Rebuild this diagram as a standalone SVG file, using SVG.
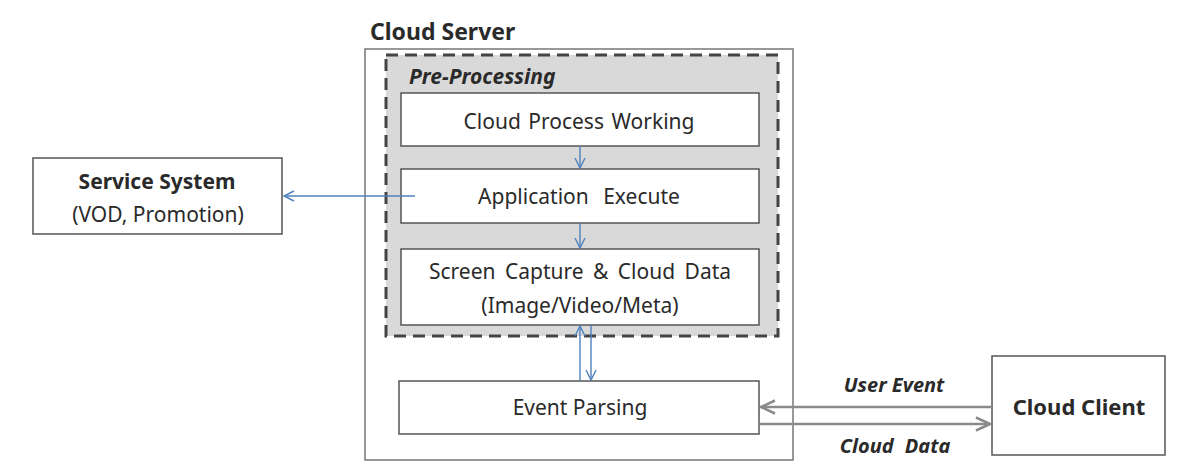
<svg xmlns="http://www.w3.org/2000/svg" width="1182" height="474" viewBox="0 0 1182 474">
<defs>
<style>
.box{fill:#fff;stroke:#555;stroke-width:1.5}
.t{font-family:"Noto Sans","Liberation Sans",sans-serif;fill:#2a2a2a;text-anchor:middle;font-size:21px}
.b{font-weight:bold}
.i{font-style:italic;font-weight:bold}
.blue{stroke:#4f81bd;stroke-width:1.4;fill:none}
.grey{stroke:#8a8a8a;stroke-width:2.5;fill:none}
</style>
<marker id="ab" viewBox="0 0 12 12" refX="11" refY="6" markerWidth="12" markerHeight="12" markerUnits="userSpaceOnUse" orient="auto">
<path d="M1,1 L11,6 L1,11" fill="none" stroke="#4f81bd" stroke-width="1.4"/>
</marker>
<marker id="ag" viewBox="0 0 16 16" refX="15" refY="8" markerWidth="16" markerHeight="16" markerUnits="userSpaceOnUse" orient="auto">
<path d="M1,1.5 L15,8 L1,14.5" fill="none" stroke="#8a8a8a" stroke-width="2.5"/>
</marker>
</defs>
<rect width="1182" height="474" fill="#fff"/>
<g id="cloud-server">
<rect x="365" y="49" width="428" height="411" fill="#fff" stroke="#777" stroke-width="1.5"/>
<text class="t b" x="370" y="40" style="text-anchor:start;font-size:23px">Cloud Server</text>
</g>
<g id="pre-processing">
<rect x="386" y="55" width="392" height="281" fill="#d9d9d9" stroke="#444" stroke-width="3" stroke-dasharray="12,7"/>
<text class="t i" x="409" y="84" style="text-anchor:start;font-size:21px">Pre-Processing</text>
</g>
<g id="cloud-process-working">
<rect class="box" x="401" y="93" width="358" height="53"/>
<text class="t" x="579" y="129" style="word-spacing:2px">Cloud Process Working</text>
</g>
<g id="application-execute">
<rect class="box" x="401" y="169" width="358" height="54"/>
<text class="t" x="579" y="204" style="word-spacing:9px">Application Execute</text>
</g>
<g id="screen-capture">
<rect class="box" x="401" y="249" width="358" height="76"/>
<text class="t" x="580" y="279" style="word-spacing:4px">Screen Capture &amp; Cloud Data</text>
<text class="t" x="580" y="313">(Image/Video/Meta)</text>
</g>
<g id="event-parsing">
<rect class="box" x="399" y="381" width="360" height="53"/>
<text class="t" x="580" y="415">Event Parsing</text>
</g>
<g id="service-system">
<rect class="box" x="33" y="158" width="249" height="76"/>
<text class="t b" x="157" y="189" style="font-size:21px">Service System</text>
<text class="t" x="158" y="222" style="font-size:21px">(VOD, Promotion)</text>
</g>
<g id="cloud-client">
<rect class="box" x="992" y="356" width="173" height="99"/>
<text class="t b" x="1079" y="415" style="font-size:22px">Cloud Client</text>
</g>
<g id="connectors">
<line class="blue" x1="580" y1="146" x2="580" y2="168" marker-end="url(#ab)"/>
<line class="blue" x1="580" y1="223" x2="580" y2="248" marker-end="url(#ab)"/>
<line class="blue" x1="580" y1="381" x2="580" y2="326" marker-end="url(#ab)"/>
<line class="blue" x1="591" y1="325" x2="591" y2="380" marker-end="url(#ab)"/>
<line class="blue" x1="415" y1="196" x2="284" y2="196" marker-end="url(#ab)"/>
<line class="grey" x1="992" y1="407" x2="761" y2="407" marker-end="url(#ag)"/>
<line class="grey" x1="759" y1="424" x2="990" y2="424" marker-end="url(#ag)"/>
<text class="t i" x="894" y="392" style="font-size:20px">User Event</text>
<text class="t i" x="895" y="453" style="font-size:20px;word-spacing:6px">Cloud Data</text>
</g>
</svg>
